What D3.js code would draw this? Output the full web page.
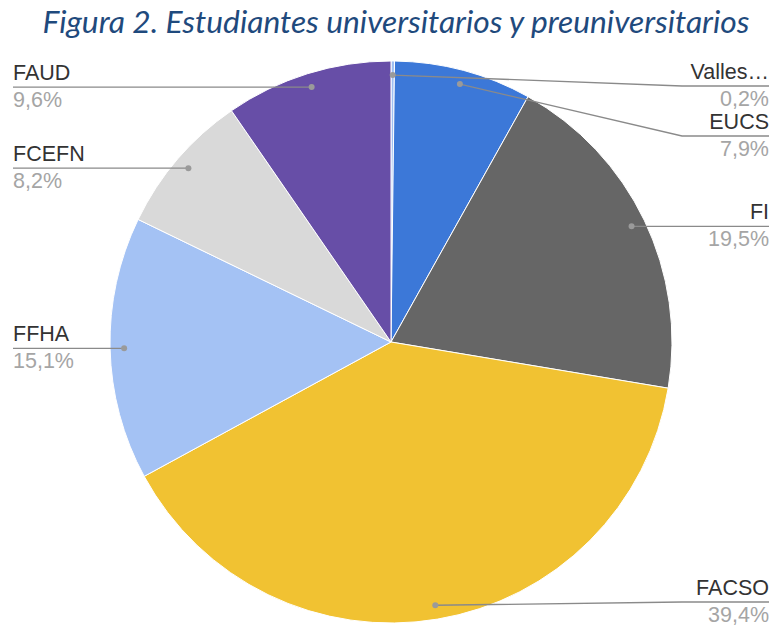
<!DOCTYPE html>
<html>
<head>
<meta charset="utf-8">
<script src="https://cdn.jsdelivr.net/npm/d3@7"></script>
<style>
  body { margin: 0; background: #fff; }
</style>
</head>
<body>
<svg width="774" height="626"></svg>
<script>
var labels = ["Valles…", "EUCS", "FI", "FACSO", "FFHA", "FCEFN", "FAUD"];
var values = [0.2, 7.9, 19.5, 39.4, 15.1, 8.2, 9.6];
var pctLabels = ["0,2%", "7,9%", "19,5%", "39,4%", "15,1%", "8,2%", "9,6%"];
var colors = ["#9fbff2", "#3c78d8", "#666666", "#f1c232", "#a4c2f4", "#d9d9d9", "#674ea7"];
var titleText = "Figura 2. Estudiantes universitarios y preuniversitarios";

var svg = d3.select("svg"),
    width = +svg.attr("width"),
    height = +svg.attr("height");

var cx = 391, cy = 342, radius = 281;

// title, sized to fill the same width as the original
var title = svg.append("text")
    .attr("x", 396)
    .attr("y", 33)
    .attr("text-anchor", "middle")
    .style("font-family", "Lato, 'Open Sans', sans-serif")
    .style("font-style", "italic")
    .style("font-size", "28px")
    .style("fill", "#1f4a7d")
    .text(titleText);
var tw = title.node().getComputedTextLength();
title.style("font-size", (28 * 707 / tw) + "px");

var data = labels.map(function(l, i) {
    return {label: l, value: values[i], pct: pctLabels[i], color: colors[i]};
});

var pie = d3.pie()
    .sort(null)
    .value(function(d) { return d.value; });

var arc = d3.arc()
    .innerRadius(0)
    .outerRadius(radius);

var dotArc = d3.arc()
    .innerRadius(radius * 0.95)
    .outerRadius(radius * 0.95);

var arcs = pie(data);

var g = svg.append("g")
    .attr("transform", "translate(" + cx + "," + cy + ")");

g.selectAll("path.slice")
    .data(arcs)
    .enter().append("path")
    .attr("class", "slice")
    .attr("d", arc)
    .style("fill", function(d) { return d.data.color; })
    .style("stroke", "#fff")
    .style("stroke-width", 1);

// label layout: side by mid angle, lines pushed apart
var minY = 86, maxY = 602, gap = 50;
arcs.forEach(function(d) {
    var c = dotArc.centroid(d);
    d.dot = [cx + c[0], cy + c[1]];
    var mid = (d.startAngle + d.endAngle) / 2;
    d.right = Math.sin(mid) >= 0;
    d.lineY = Math.max(minY, Math.min(maxY, d.dot[1]));
});
[true, false].forEach(function(side) {
    var list = arcs.filter(function(d) { return d.right === side; })
        .sort(function(a, b) { return a.lineY - b.lineY; });
    for (var i = 1; i < list.length; i++) {
        if (list[i].lineY - list[i - 1].lineY < gap) list[i].lineY = list[i - 1].lineY + gap;
    }
});

var lab = svg.append("g");

lab.selectAll("path.leader")
    .data(arcs)
    .enter().append("path")
    .attr("class", "leader")
    .attr("d", function(d) {
        var endX = d.right ? 769 : 13;
        var elbowX = d.right ? 682 : 101;
        var pts = [d.dot];
        if (Math.abs(d.dot[1] - d.lineY) > 1) pts.push([elbowX, d.lineY]);
        pts.push([endX, d.lineY]);
        return d3.line()(pts);
    })
    .style("fill", "none")
    .style("stroke", "#8a8a8a")
    .style("stroke-width", 1.3);

lab.selectAll("circle.dot")
    .data(arcs)
    .enter().append("circle")
    .attr("class", "dot")
    .attr("cx", function(d) { return d.dot[0]; })
    .attr("cy", function(d) { return d.dot[1]; })
    .attr("r", 3)
    .style("fill", "#9a9a9a");

lab.selectAll("text.name")
    .data(arcs)
    .enter().append("text")
    .attr("class", "name")
    .attr("x", function(d) { return d.right ? 769 : 13; })
    .attr("y", function(d) { return d.lineY - 7; })
    .attr("text-anchor", function(d) { return d.right ? "end" : "start"; })
    .style("font-family", "'Liberation Sans', Arial, sans-serif")
    .style("font-size", "21.5px")
    .style("fill", "#333")
    .text(function(d) { return d.data.label; });

lab.selectAll("text.pct")
    .data(arcs)
    .enter().append("text")
    .attr("class", "pct")
    .attr("x", function(d) { return d.right ? 769 : 13; })
    .attr("y", function(d) { return d.lineY + 20; })
    .attr("text-anchor", function(d) { return d.right ? "end" : "start"; })
    .style("font-family", "'Liberation Sans', Arial, sans-serif")
    .style("font-size", "21.5px")
    .style("fill", "#a5a5a5")
    .text(function(d) { return d.data.pct; });
</script>
</body>
</html>
